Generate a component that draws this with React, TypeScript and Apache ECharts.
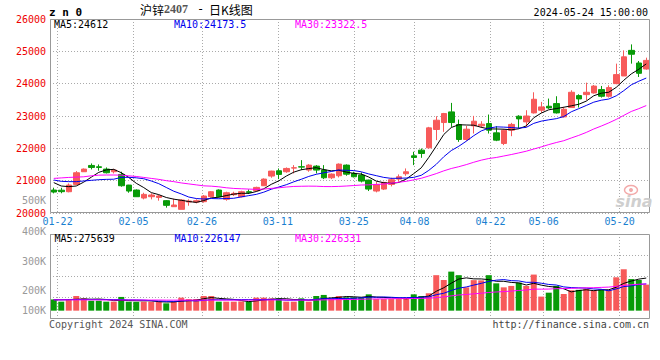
import React, { useEffect, useRef } from 'react';
import * as echarts from 'echarts';

// ---------- data ----------
const dates = [
  '01-19', '01-22', '01-23', '01-24', '01-25', '01-26', '01-29', '01-30', '01-31', '02-01',
  '02-02', '02-05', '02-06', '02-07', '02-08', '02-19', '02-20', '02-21', '02-22', '02-23',
  '02-26', '02-27', '02-28', '02-29', '03-01', '03-04', '03-05', '03-06', '03-07', '03-08',
  '03-11', '03-12', '03-13', '03-14', '03-15', '03-18', '03-19', '03-20', '03-21', '03-22',
  '03-25', '03-26', '03-27', '03-28', '03-29', '04-01', '04-02', '04-03', '04-08', '04-09',
  '04-10', '04-11', '04-12', '04-15', '04-16', '04-17', '04-18', '04-19', '04-22', '04-23',
  '04-24', '04-25', '04-26', '04-29', '04-30', '05-06', '05-07', '05-08', '05-09', '05-10',
  '05-13', '05-14', '05-15', '05-16', '05-17', '05-20', '05-21', '05-22', '05-23', '05-24',
];

const opens = [
  20710, 20705, 20658, 20885, 21276, 21471, 21430, 21358, 21276, 21193,
  20864, 20710, 20463, 20504, 20483, 20381, 20195, 20113, 20339, 20339,
  20350, 20504, 20710, 20422, 20566, 20504, 20658, 20689, 20843, 21142,
  21306, 21276, 21389, 21430, 21327, 21450, 21327, 21090, 21152, 21481,
  21224, 21172, 21018, 20679, 20740, 20884, 21049, 21214, 21769, 21944,
  22016, 22582, 22798, 23127, 22736, 22273, 22695, 22695, 22767, 22479,
  22150, 22561, 22993, 22818, 23096, 23178, 23302, 23384, 22973, 23261,
  23631, 23662, 23713, 23816, 23610, 24001, 24238, 25030, 24639, 24454,
];

const closes = [
  20648, 20660, 20864, 21245, 21358, 21409, 21409, 21245, 21327, 20843,
  20679, 20504, 20576, 20556, 20525, 20237, 20247, 20401, 20370, 20381,
  20525, 20658, 20504, 20627, 20607, 20658, 20638, 20792, 21049, 21296,
  21193, 21378, 21399, 21420, 21481, 21327, 21090, 21203, 21512, 21200,
  21121, 20987, 20740, 20884, 20946, 21029, 21121, 21275, 21718, 21841,
  22633, 22870, 23076, 22798, 22273, 22592, 22839, 22746, 22561, 22253,
  22560, 22740, 22911, 23000, 23518, 23281, 23250, 23096, 23209, 23734,
  23528, 23734, 23925, 23610, 23878, 24280, 24830, 24910, 24320, 24720,
];

const lows = [
  20607, 20610, 20640, 20864, 21270, 21348, 21306, 21224, 21224, 20813,
  20627, 20500, 20422, 20422, 20381, 20165, 20195, 20113, 20226, 20298,
  20319, 20483, 20483, 20381, 20525, 20483, 20586, 20680, 20835, 21090,
  21049, 21245, 21224, 21327, 21276, 21224, 21049, 21049, 21100, 21152,
  21100, 20946, 20679, 20638, 20710, 20823, 20967, 21152, 21481, 21707,
  21995, 22253, 22510, 22664, 22201, 22232, 22458, 22633, 22458, 22222,
  22100, 22376, 22613, 22664, 23076, 23096, 23220, 23076, 22952, 23261,
  23261, 23487, 23693, 23570, 23570, 23981, 24238, 24619, 24207, 24433,
];

const highs = [
  20782, 20780, 20915, 21296, 21378, 21533, 21502, 21409, 21368, 21276,
  20870, 20730, 20627, 20607, 20556, 20401, 20442, 20422, 20422, 20422,
  20555, 20679, 20730, 20658, 20658, 20689, 20730, 20813, 21070, 21306,
  21378, 21409, 21481, 21635, 21512, 21481, 21481, 21224, 21533, 21502,
  21276, 21255, 21030, 20967, 20967, 21090, 21193, 21378, 21893, 21995,
  22664, 22993, 23096, 23405, 22890, 22695, 23004, 22839, 23045, 22685,
  22600, 22788, 23024, 23178, 23734, 23436, 23539, 23611, 23281, 23796,
  23672, 24032, 23960, 23929, 23950, 24619, 25030, 25215, 24701, 24804,
];

const volumes = [
  95000, 76000, 95000, 124000, 104000, 84000, 84000, 76000, 76000, 116000,
  76000, 74000, 76000, 76000, 78000, 62000, 76000, 110000, 98000, 98000,
  124000, 124000, 76000, 76000, 76000, 78000, 76000, 110000, 110000, 104000,
  104000, 76000, 76000, 104000, 76000, 124000, 133000, 104000, 124000, 113000,
  113000, 113000, 138000, 98000, 98000, 98000, 98000, 110000, 138000, 124000,
  147000, 300000, 259000, 330000, 300000, 197000, 258000, 256000, 300000, 231000,
  197000, 209000, 237000, 209000, 305000, 119000, 152000, 209000, 141000, 172460,
  176000, 185000, 170000, 178000, 174275, 282000, 350000, 267000, 259000, 220195,
];

// moving-average values at the left edge (earlier history)
const ma5Head = [20940, 20835, 20815, 20835];
const ma10Head = [21020, 20980, 20970, 20970, 20990, 21010, 21030, 21040, 21045];
const ma30Head = [
  21070, 21085, 21100, 21110, 21120, 21150, 21170, 21175, 21175, 21170,
  21150, 21130, 21100, 21070, 21040, 21000, 20970, 20930, 20900, 20870,
  20840, 20830, 20810, 20780, 20760, 20750, 20740, 20730, 20740,
];
const volMa5Head = [93000, 92000, 94000, 96000];
const volMa10Head = [92000, 92000, 93000, 94000, 95000, 95000, 94000, 94000, 94000];
const volMa30Head = [
  91000, 91000, 91000, 91000, 91000, 91000, 91000, 90000, 90000, 90000,
  90000, 90000, 90000, 90000, 90000, 89000, 89000, 89000, 89000, 89000,
  89000, 89000, 89000, 89000, 89000, 89000, 89000, 90000, 90000,
];

const xLabelDates = ['01-22', '02-05', '02-26', '03-11', '03-25', '04-08', '04-22', '05-06', '05-20'];
const volTickLabels = ['400K', '300K', '200K', '100K'];
const priceVolLabel = '500K';
const symbolText = 'z n 0';
const titleParts = ['沪锌', '2407', '-', '日K线图'];
const timeText = '2024-05-24 15:00:00';
const copyrightText = 'Copyright 2024 SINA.COM';
const urlText = 'http://finance.sina.com.cn';

// ---------- layout / style ----------
const MONO = '"DejaVu Sans Mono", monospace';
const RED = '#f75a5a';
const GREEN = '#089b08';
const GRID_C = '#aaaaaa';
const FRAME_C = '#999999';
const volTickY = [231, 261, 290, 310];

function movingAverage(values: number[], n: number, head: number[]) {
  return values.map((_, i) => {
    if (i < n - 1) return head[i];
    let s = 0;
    for (let k = i - n + 1; k <= i; k++) s += values[k];
    return Math.round((s / n) * 100) / 100;
  });
}

const fmtPrice = (v: number) => (Number.isInteger(v) ? String(v) : v.toFixed(1));

function txt(x: number, y: number, text: string, fill: string, font: string, align = 'left') {
  return {
    type: 'text',
    x,
    y,
    silent: true,
    z: 100,
    style: {
      text,
      fill,
      font,
      align,
      verticalAlign: 'middle',
      textAlign: align,
      textVerticalAlign: 'middle',
    },
  };
}

function buildOption() {
  const ma5 = movingAverage(closes, 5, ma5Head);
  const ma10 = movingAverage(closes, 10, ma10Head);
  const ma30 = movingAverage(closes, 30, ma30Head);
  const vma5 = movingAverage(volumes, 5, volMa5Head);
  const vma10 = movingAverage(volumes, 10, volMa10Head);
  const vma30 = movingAverage(volumes, 30, volMa30Head);
  const last = dates.length - 1;

  const labelSet = new Set(xLabelDates);
  const showAt = (_i: number, v: string) => labelSet.has(v);

  const dotted = { color: GRID_C, width: 1, type: [1, 2] as any };

  const hiddenCat = (gridIndex: number) => ({
    type: 'category',
    gridIndex,
    data: dates,
    boundaryGap: true,
    position: 'bottom',
    axisLine: { show: false, onZero: false },
    axisTick: { show: false },
    axisLabel: { show: false },
    splitLine: { show: false },
  });

  const tickCat = (gridIndex: number, labels: boolean) => ({
    type: 'category',
    gridIndex,
    data: dates,
    boundaryGap: false,
    position: 'bottom',
    axisLine: { show: false, onZero: false },
    axisTick: { show: false },
    axisLabel: labels
      ? { show: true, interval: showAt, color: '#1a7fd0', fontSize: 10, fontFamily: MONO, margin: 3 }
      : { show: false },
    splitLine: { show: true, interval: showAt, lineStyle: dotted },
  });

  const vol = volumes.map((v, i) => ({
    value: v,
    itemStyle: { color: closes[i] > opens[i] ? RED : GREEN },
  }));

  const line = (data: number[], color: string, xi: number, yi: number) => ({
    type: 'line',
    xAxisIndex: xi,
    yAxisIndex: yi,
    data,
    showSymbol: false,
    symbol: 'none',
    smooth: false,
    lineStyle: { color, width: 1 },
    silent: true,
    z: 5,
  });

  const graphic: any[] = [
    { type: 'rect', silent: true, z: 50, shape: { x: 50.5, y: 19.5, width: 599, height: 193 }, style: { fill: 'none', stroke: FRAME_C, lineWidth: 1 } },
    { type: 'rect', silent: true, z: 50, shape: { x: 50.5, y: 234.5, width: 599, height: 84 }, style: { fill: 'none', stroke: FRAME_C, lineWidth: 1 } },
    txt(49, 12, symbolText, '#000', `bold 11px ${MONO}`),
    txt(140, 9, titleParts[0], '#000', '12px "Noto Sans CJK SC"'),
    txt(164, 9, titleParts[1], '#555', 'bold 12px "Liberation Serif"'),
    txt(197, 9, titleParts[2], '#000', `12px ${MONO}`),
    txt(209, 9, titleParts[3], '#000', '12px "Noto Sans CJK SC"'),
    txt(648, 12, timeText, '#000', `10px ${MONO}`, 'right'),
    txt(54, 24, 'MA5:' + fmtPrice(ma5[last]), '#000', `10px ${MONO}`),
    txt(174, 24, 'MA10:' + fmtPrice(ma10[last]), '#0000ee', `10px ${MONO}`),
    txt(295, 24, 'MA30:' + fmtPrice(ma30[last]), '#ff00ff', `10px ${MONO}`),
    txt(46, 200.5, priceVolLabel, '#999', `10px ${MONO}`, 'right'),
    txt(54.5, 238.5, 'MA5:' + Math.round(vma5[last]), '#000', `10px ${MONO}`),
    txt(174.5, 238.5, 'MA10:' + Math.round(vma10[last]), '#0000ee', `10px ${MONO}`),
    txt(295, 238.5, 'MA30:' + Math.round(vma30[last]), '#ff00ff', `10px ${MONO}`),
    ...volTickLabels.map((t, i) => txt(46, volTickY[i], t, '#999', `10px ${MONO}`, 'right')),
    txt(49, 324, copyrightText, '#555', `10px ${MONO}`),
    txt(649, 324, urlText, '#444', `10px ${MONO}`, 'right'),
    // sina watermark
    { type: 'ellipse', silent: true, z: 1, shape: { cx: 631, cy: 190, rx: 6.5, ry: 4.5 }, style: { fill: 'none', stroke: '#f3aaaa', lineWidth: 1.5 } },
    { type: 'circle', silent: true, z: 1, shape: { cx: 631, cy: 190, r: 2 }, style: { fill: '#f3aaaa' } },
    txt(634, 201, 'sina', '#cfcfcf', 'italic bold 16px "DejaVu Sans"', 'center'),
  ];

  return {
    animation: false,
    backgroundColor: '#ffffff',
    textStyle: { fontFamily: MONO },
    grid: [
      { left: 50, top: 19, width: 600, height: 194, show: false },
      { left: 50, top: 234, width: 600, height: 84, show: false },
    ],
    xAxis: [hiddenCat(0), tickCat(0, true), hiddenCat(1), tickCat(1, false)],
    yAxis: [
      {
        type: 'value',
        gridIndex: 0,
        min: 20000,
        max: 26000,
        interval: 1000,
        position: 'left',
        axisLine: { show: false },
        axisTick: { show: false },
        axisLabel: {
          color: '#ee0000',
          fontSize: 10,
          fontFamily: MONO,
          margin: 4,
          padding: [0, 0, 6, 0],
          formatter: (v: number) => String(v),
        },
        splitLine: { show: true, lineStyle: dotted },
      },
      {
        type: 'value',
        gridIndex: 1,
        min: -62000,
        max: 648000,
        position: 'left',
        axisLine: { show: false },
        axisTick: { show: false },
        axisLabel: { show: false },
        splitLine: { show: false },
      },
      {
        type: 'value',
        gridIndex: 1,
        min: 0,
        max: 4,
        interval: 1,
        position: 'left',
        axisLine: { show: false },
        axisTick: { show: false },
        axisLabel: { show: false },
        splitLine: { show: true, lineStyle: dotted },
      },
    ],
    series: [
      {
        type: 'candlestick',
        xAxisIndex: 0,
        yAxisIndex: 0,
        barWidth: 6,
        data: dates.map((_, i) => [opens[i], closes[i], lows[i], highs[i]]),
        itemStyle: { color: RED, color0: GREEN, borderColor: RED, borderColor0: GREEN, borderWidth: 1 },
        silent: true,
        z: 3,
      },
      line(ma5, '#000000', 0, 0),
      line(ma10, '#0000ee', 0, 0),
      line(ma30, '#ff00ff', 0, 0),
      {
        type: 'bar',
        xAxisIndex: 2,
        yAxisIndex: 1,
        barWidth: 6,
        data: vol,
        silent: true,
        z: 3,
      },
      line(vma5, '#000000', 2, 1),
      line(vma10, '#0000ee', 2, 1),
      line(vma30, '#ff00ff', 2, 1),
    ],
    graphic,
  };
}

export default function App() {
  const ref = useRef<HTMLDivElement>(null);
  useEffect(() => {
    document.body.style.margin = '0';
    const chart = echarts.init(ref.current as HTMLDivElement, null, { renderer: 'svg' });
    chart.setOption(buildOption() as any);
    return () => {
      chart.dispose();
    };
  }, []);
  return (
    <div
      ref={ref}
      style={{ position: 'absolute', left: 0, top: 0, width: 660, height: 360, background: '#fff' }}
    />
  );
}
